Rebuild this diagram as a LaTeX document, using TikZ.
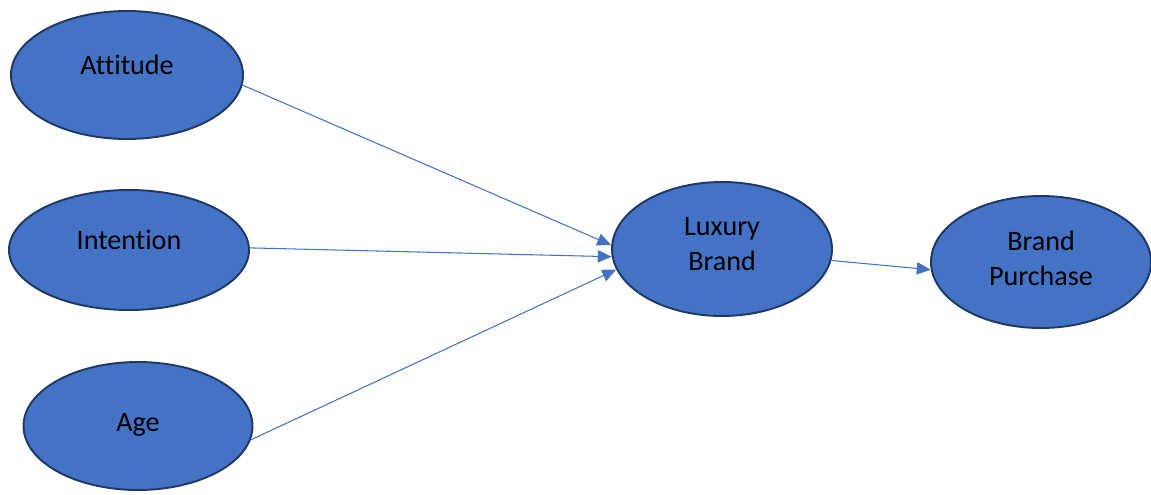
\documentclass[tikz,border=0pt]{standalone}
\usepackage{fontspec}
\setmainfont[Ligatures=NoCommon]{Carlito}
\usepackage{xcolor}
\usetikzlibrary{arrows.meta,positioning,shapes.geometric}
\definecolor{fillblue}{HTML}{4472C4}
\definecolor{edgeblue}{HTML}{203864}
\tikzset{%
	construct/.style = {draw=edgeblue, line width=1.1pt, fill=fillblue, ellipse, inner sep=0pt},
	arrow/.style     = {draw=fillblue, line width=0.6pt, -{Triangle[length=8pt,width=7pt]}},
	lbl/.style       = {font=\fontsize{16}{20}\selectfont, align=center, text=black},
}

\begin{document}
\begin{tikzpicture}[x=0.02cm,y=-0.02cm]
	\useasboundingbox (0,0) rectangle (1151,494);
	
	\node[construct, minimum width=232*0.02cm, minimum height=128*0.02cm, label={[lbl,yshift=10*0.02cm]center:Attitude}] (att) at (127,75) {};
	\node[construct, minimum width=240*0.02cm, minimum height=120*0.02cm, label={[lbl,yshift=10*0.02cm]center:Intention}] (int) at (129,250) {};
	\node[construct, minimum width=229*0.02cm, minimum height=128*0.02cm, label={[lbl,yshift=1*0.02cm]center:Age}] (age) at (138,426) {};
	\node[construct, minimum width=220*0.02cm, minimum height=134*0.02cm, label={[lbl,yshift=5*0.02cm]center:Luxury\\Brand}] (lux) at (722,249) {};
	\node[construct, minimum width=220*0.02cm, minimum height=132*0.02cm, label={[lbl,yshift=4*0.02cm]center:Brand\\Purchase}] (pur) at (1041,262) {};
	
	\draw[arrow] (att.-5) -- (lux.178);
	\draw[arrow] (int.1) -- (lux.184);
	\draw[arrow] (age.-7) -- (lux.191);
	\draw[arrow] (lux.-6) -- (pur.184);
\end{tikzpicture}
\end{document}
